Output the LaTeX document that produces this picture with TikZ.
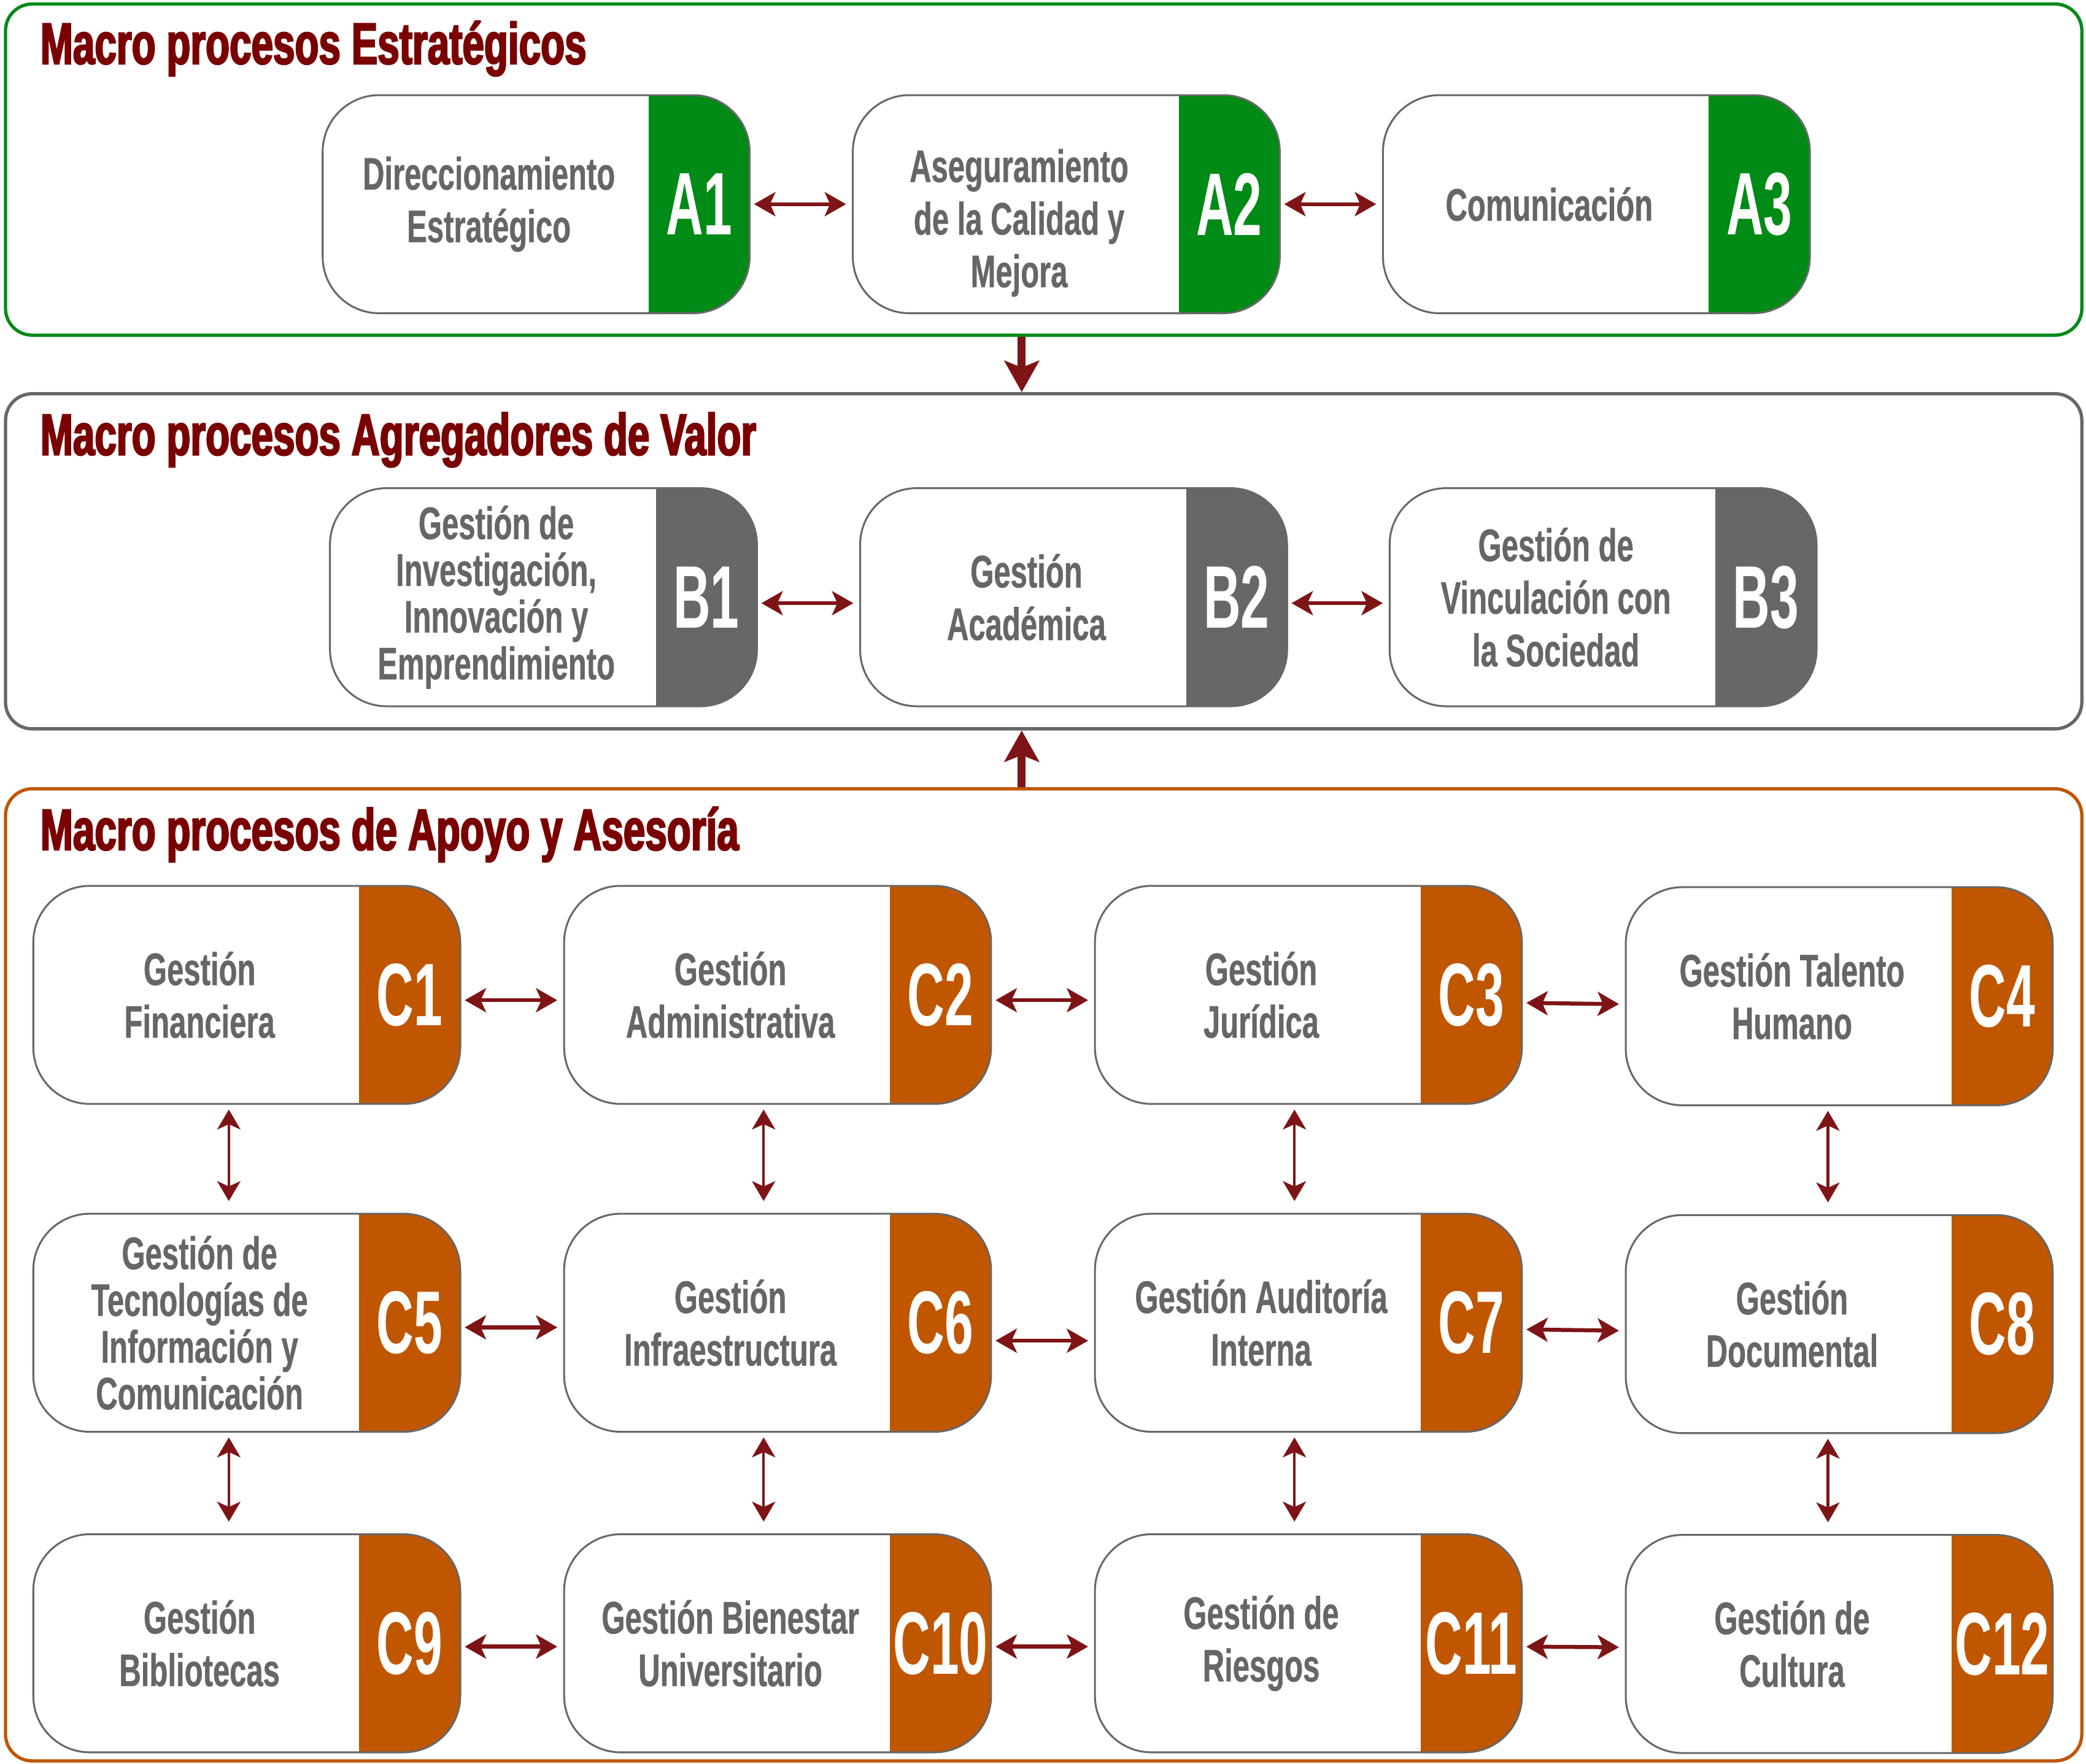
\documentclass[tikz,border=0pt]{standalone}
\usepackage{fontspec}
\setmainfont{Liberation Sans}
\newfontfamily\titlefont[FakeStretch=0.67,BoldFeatures={FakeBold=2.5}]{Liberation Sans}
\newfontfamily\boxfont[FakeStretch=0.66,BoldFeatures={FakeBold=0.6}]{Liberation Sans}
\newfontfamily\tabfont[FakeStretch=0.58]{Liberation Sans}
\usetikzlibrary{arrows.meta}

\definecolor{verde}{HTML}{008A16}
\definecolor{gris}{HTML}{676767}
\definecolor{naranja}{HTML}{C05600}
\definecolor{granate}{HTML}{7A0000}
\definecolor{flecha}{HTML}{7E1416}
\definecolor{textgris}{HTML}{666666}

% text of a process box: name on the white part, code on the tab
\newcommand{\proctext}[2]{\hspace*{0.1cm}\parbox[c]{4.8cm}{\centering #1}\parbox[c]{1.52cm}{\centering\tabfont\bfseries\fontsize{38}{40}\selectfont\color{white}#2}}

\tikzset{
  marco/.style={draw=#1, line width=1.4pt, fill=white, rounded corners=0.4cm,
    minimum width=31.22cm, inner sep=0pt},
  titulo/.style={anchor=base west, inner sep=0pt, text=granate,
    font=\titlefont\bfseries\fontsize{25}{28}\selectfont},
  proceso/.style={draw=gris, line width=0.8pt, fill=white, rounded corners=0.85cm,
    inner sep=0pt, minimum width=6.42cm, minimum height=3.28cm, text=textgris,
    font=\boxfont\bfseries\fontsize{19.5}{22.5}\selectfont,
    path picture={\fill[#1, sharp corners] ([xshift=-1.52cm]path picture bounding box.north east)
      rectangle (path picture bounding box.south east);}},
  harrow/.style={{Stealth[length=0.32cm,width=0.36cm,inset=0.08cm]}-{Stealth[length=0.32cm,width=0.36cm,inset=0.08cm]},
    line width=0.06cm, draw=flecha, fill=flecha, shorten <=1.5pt, shorten >=2.5pt},
  varrow/.style={{Stealth[length=0.3cm,width=0.35cm,inset=0.08cm]}-{Stealth[length=0.3cm,width=0.35cm,inset=0.08cm]},
    line width=0.04cm, draw=flecha, fill=flecha, shorten <=2pt, shorten >=5pt},
  bigarrow/.style={-{Stealth[length=0.47cm,width=0.52cm,inset=0.1cm]},
    line width=0.12cm, draw=flecha, fill=flecha}
}

\begin{document}
\begin{tikzpicture}[x=0.02cm, y=-0.02cm]
\useasboundingbox (0,0) rectangle (1568,1326);

% macro process frames
\node (estr) at (784.5,127.5) [marco=verde, minimum height=4.98cm] {};
\node (valor) at (784.5,422) [marco=gris, minimum height=5.04cm] {};
\node (apoyo) at (784.5,958.5) [marco=naranja, minimum height=14.62cm] {};

\node (testr) at (30,48) [titulo] {Macro procesos Estratégicos};
\node (tvalor) at (30,342) [titulo] {Macro procesos Agregadores de Valor};
\node (tapoyo) at (30,639) [titulo] {Macro procesos de Apoyo y Asesoría};

% estrategicos
\node (A1) at (403,153.5) [proceso=verde] {\proctext{Direccionamiento\\Estratégico}{A1}};
\node (A2) at (801.5,153.5) [proceso=verde] {\proctext{\vspace*{0.56cm}Aseguramiento\\de la Calidad y\\Mejora}{A2}};
\node (A3) at (1200,153.5) [proceso=verde] {\proctext{Comunicación}{A3}};

% agregadores de valor
\node (B1) at (408.5,449) [proceso=gris] {\proctext{\fontsize{19.5}{20}\selectfont Gestión de\\Investigación,\\Innovación y\\Emprendimiento}{B1}};
\node (B2) at (807,449) [proceso=gris] {\proctext{Gestión\\Académica}{B2}};
\node (B3) at (1205,449) [proceso=gris] {\proctext{Gestión de\\Vinculación con\\la Sociedad}{B3}};

% apoyo y asesoria
\node (C1) at (185.5,748) [proceso=naranja] {\proctext{Gestión\\Financiera}{C1}};
\node (C2) at (584.5,748) [proceso=naranja] {\proctext{Gestión\\Administrativa}{C2}};
\node (C3) at (983.5,748) [proceso=naranja] {\proctext{Gestión\\Jurídica}{C3}};
\node (C4) at (1382.5,749) [proceso=naranja] {\proctext{Gestión Talento\\Humano}{C4}};
\node (C5) at (185.5,994.5) [proceso=naranja] {\proctext{\fontsize{19.5}{20}\selectfont Gestión de\\Tecnologías de\\Información y\\Comunicación}{C5}};
\node (C6) at (584.5,994.5) [proceso=naranja] {\proctext{Gestión\\Infraestructura}{C6}};
\node (C7) at (983.5,994.5) [proceso=naranja] {\proctext{Gestión Auditoría\\Interna}{C7}};
\node (C8) at (1382.5,995.5) [proceso=naranja] {\proctext{Gestión\\Documental}{C8}};
\node (C9) at (185.5,1235.5) [proceso=naranja] {\proctext{Gestión\\Bibliotecas}{C9}};
\node (C10) at (584.5,1235.5) [proceso=naranja] {\proctext{Gestión Bienestar\\Universitario}{C10}};
\node (C11) at (983.5,1235.5) [proceso=naranja] {\proctext{Gestión de\\Riesgos}{C11}};
\node (C12) at (1382.5,1236) [proceso=naranja] {\proctext{Gestión de\\Cultura}{C12}};

% between frames
\draw[bigarrow] ([xshift=-0.33cm]estr.south) to ([xshift=-0.33cm]valor.north);
\draw[bigarrow] ([xshift=-0.33cm]apoyo.north) to ([xshift=-0.33cm]valor.south);

% horizontal links
\foreach \a/\b/\s in {A1/A2/0cm, A2/A3/0cm, B1/B2/-0.09cm, B2/B3/-0.09cm,
  C1/C2/-0.08cm, C2/C3/-0.08cm, C3/C4/-0.12cm, C5/C6/-0.07cm, C6/C7/-0.27cm,
  C7/C8/-0.1cm, C9/C10/-0.05cm, C10/C11/-0.05cm, C11/C12/-0.05cm}
  \draw[harrow] ([yshift=\s]\a.east) to ([yshift=\s]\b.west);

% vertical links
\foreach \a/\b/\s in {C1/C5/-0.27cm, C2/C6/-0.21cm, C3/C7/-0.21cm, C4/C8/-0.17cm,
  C5/C9/-0.27cm, C6/C10/-0.21cm, C7/C11/-0.21cm, C8/C12/-0.17cm}
  \draw[varrow] ([xshift=\s]\a.south) to ([xshift=\s]\b.north);
\end{tikzpicture}
\end{document}
